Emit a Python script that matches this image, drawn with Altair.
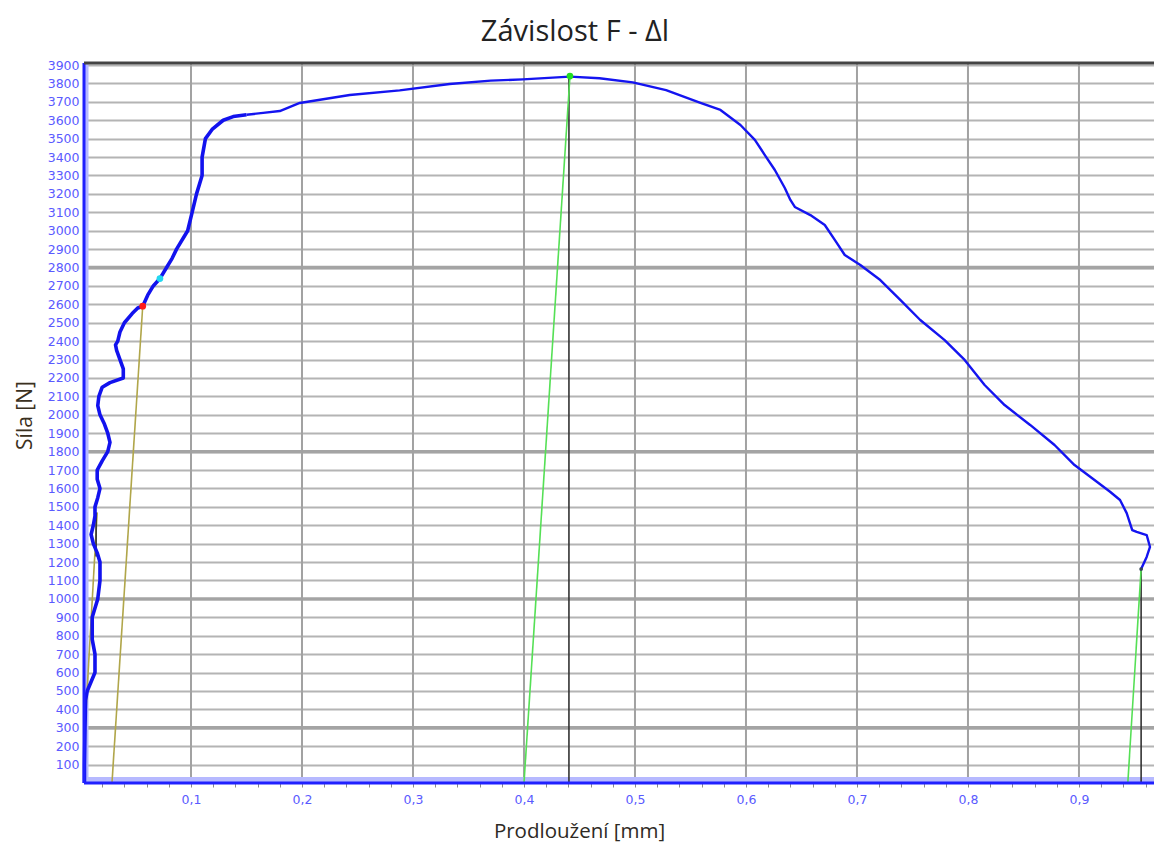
import altair as alt
import pandas as pd

# ---- data ----
curve_x = [0.004, 0.004, 0.0045, 0.005, 0.0065, 0.010, 0.0135, 0.0135, 0.011, 0.011,
           0.014, 0.016, 0.018, 0.018, 0.0155, 0.012, 0.010, 0.012, 0.0135, 0.0135,
           0.016, 0.018, 0.0155, 0.0155, 0.020, 0.025, 0.027, 0.025, 0.022, 0.018,
           0.016, 0.017, 0.020, 0.027, 0.039, 0.039, 0.036, 0.033, 0.032, 0.034,
           0.036, 0.040, 0.047, 0.052, 0.0565, 0.061, 0.066, 0.072, 0.078, 0.083,
           0.087, 0.097, 0.101, 0.105, 0.110, 0.110, 0.113, 0.119, 0.129, 0.138,
           0.150, 0.165, 0.180, 0.198, 0.243, 0.288, 0.333, 0.370, 0.399, 0.4414,
           0.468, 0.498, 0.528, 0.559, 0.577, 0.595, 0.608, 0.617, 0.626, 0.635,
           0.640, 0.644, 0.658, 0.671, 0.680, 0.689, 0.703, 0.721, 0.739, 0.757,
           0.779, 0.797, 0.815, 0.833, 0.856, 0.878, 0.896, 0.914, 0.928, 0.937,
           0.943, 0.948, 0.952, 0.961, 0.964, 0.961, 0.956]
curve_f = [0, 100, 300, 450, 500, 550, 600, 700, 780, 900,
           960, 1000, 1100, 1200, 1250, 1300, 1350, 1400, 1450, 1500,
           1550, 1600, 1650, 1700, 1750, 1800, 1850, 1900, 1950, 2000,
           2050, 2100, 2150, 2175, 2200, 2250, 2300, 2350, 2380, 2400,
           2450, 2500, 2550, 2580, 2590, 2650, 2700, 2740, 2800, 2850,
           2900, 3000, 3100, 3200, 3300, 3400, 3500, 3550, 3600, 3620,
           3630, 3640, 3650, 3694, 3737, 3762, 3797, 3815, 3822, 3837,
           3828, 3806, 3764, 3694, 3656, 3574, 3493, 3411, 3330, 3232,
           3167, 3129, 3085, 3031, 2950, 2868, 2814, 2732, 2624, 2515,
           2406, 2298, 2162, 2053, 1945, 1836, 1727, 1646, 1582, 1537,
           1466, 1374, 1364, 1347, 1282, 1228, 1162]
split_index = 60  # thicker trace below this index

# marker lines (x start/end, F start/end, colour group)
seg_id = ["olive1", "olive1", "olive2", "olive2", "black0", "black0",
          "black1", "black1", "green1", "green1", "black2", "black2", "green2", "green2"]
seg_x = [0.0288, 0.0565, 0.0045, 0.0155, 0.0145, 0.0145,
         0.4405, 0.4405, 0.400, 0.4414, 0.956, 0.956, 0.944, 0.956]
seg_f = [0, 2590, 300, 1470, 1230, 1470,
         0, 3837, 0, 3837, 0, 1162, 0, 1162]
seg_color = ["#b0a64a", "#b0a64a", "#b0a64a", "#b0a64a", "#333333", "#333333",
             "#333333", "#333333", "#55e055", "#55e055", "#333333", "#333333", "#55e055", "#55e055"]

pt_x = [0.0565, 0.072, 0.4414, 0.956]
pt_f = [2590, 2740, 3840, 1162]
pt_color = ["#ff1a1a", "#22d8f0", "#22dd22", "#334455"]
pt_size = [45, 45, 45, 14]

y_ticks = list(range(100, 4000, 100))
thick_grid = [300, 1000, 1800, 2800]
x_major = [0.1, 0.2, 0.3, 0.4, 0.5, 0.6, 0.7, 0.8, 0.9]
x_minor = [round(i * 0.02, 2) for i in range(1, 49)]

x_min, x_max = 0.0036, 0.9676
f_max = 3911

LABEL = "#5a5aff"
BLUE = "#2020ff"
BAND = "#b6b9ff"

df = pd.DataFrame({"x": curve_x, "f": curve_f, "i": list(range(len(curve_x)))})
segs = pd.DataFrame({"id": seg_id, "x": seg_x, "f": seg_f, "c": seg_color})
pts = pd.DataFrame({"x": pt_x, "f": pt_f, "c": pt_color, "s": pt_size})

xs = alt.Scale(domain=[x_min, x_max], nice=False, zero=False)
ys = alt.Scale(domain=[0, f_max], nice=False, zero=False)

x_axis = alt.Axis(
    values=x_minor, grid=False, domain=False, ticks=True, tickColor="#8a8a8a",
    tickSize=4, tickWidth=1, labelOverlap=False, labelBound=False, labelFlush=False,
    labelExpr="abs(datum.value*10 - round(datum.value*10)) < 0.001 ? replace(format(datum.value, '.1f'), '.', ',') : ''",
    labelColor=LABEL, labelFont="DejaVu Sans", labelFontSize=12.5, labelPadding=6,
    title="Prodloužení [mm]", titleFont="Open Sans", titleFontSize=20.5, titleFontWeight="normal",
    titleColor="#2e2a24", titleX=495, titleY=48, titleAlign="center", titleBaseline="middle",
    titleAnchor="start",
)
y_axis = alt.Axis(
    values=y_ticks, format="d", grid=True, gridColor="#b4b4b4", gridWidth=2, domain=False,
    ticks=False, labelOverlap=False, labelBound=False, labelFlush=False,
    labelColor=LABEL, labelFont="DejaVu Sans", labelFontSize=12.5, labelPadding=5,
    title="Síla [N]", titleFont="Open Sans", titleFontSize=21, titleFontWeight="normal",
    titleColor="#3a3020", titleX=-59, titleY=352, titleAngle=270, titleAlign="center",
    titleBaseline="middle", titleAnchor="start",
)


def X(field="x:Q"):
    return alt.X(field, scale=xs, axis=x_axis)


def Y(field="f:Q"):
    return alt.Y(field, scale=ys, axis=y_axis)


base = alt.Chart(df).mark_line(strokeWidth=0, opacity=0).encode(
    x=X(), y=Y(), order="i:Q",
)

thick = alt.Chart(pd.DataFrame({"f": thick_grid})).mark_rule(
    color="#a4a4a4", strokeWidth=3.4).encode(y=Y())
vgrid = alt.Chart(pd.DataFrame({"x": x_major})).mark_rule(
    color="#a2a2a2", strokeWidth=2).encode(x=X())

bottom_band = alt.Chart(pd.DataFrame({"f": [0]})).mark_rule(
    color=BAND, strokeWidth=6, yOffset=-3).encode(y=Y())
left_band = alt.Chart(pd.DataFrame({"x": [x_min]})).mark_rule(
    color=BAND, strokeWidth=4, xOffset=2.5).encode(x=X())

lines = alt.Chart(segs).mark_line(strokeWidth=1.6).encode(
    x=X(), y=Y(), detail="id:N", color=alt.Color("c:N", scale=None),
)

lower = alt.Chart(df).transform_filter(alt.datum.i <= split_index).mark_line(
    color="#1212ee", strokeWidth=3.6, strokeJoin="round").encode(x=X(), y=Y(), order="i:Q")
upper = alt.Chart(df).transform_filter(alt.datum.i >= split_index).mark_line(
    color="#1414f0", strokeWidth=2.4, strokeJoin="round").encode(x=X(), y=Y(), order="i:Q")

points = alt.Chart(pts).mark_point(filled=True, opacity=1).encode(
    x=X(), y=Y(), color=alt.Color("c:N", scale=None), size=alt.Size("s:Q", scale=None))

bottom_axis = alt.Chart(pd.DataFrame({"f": [0]})).mark_rule(
    color=BLUE, strokeWidth=3).encode(y=Y())
left_axis = alt.Chart(pd.DataFrame({"x": [x_min]})).mark_rule(
    color=BLUE, strokeWidth=3).encode(x=X())
top_border = alt.Chart(pd.DataFrame({"f": [f_max]})).mark_rule(
    color="#444444", strokeWidth=3).encode(y=Y())

chart = alt.layer(
    base, thick, vgrid, bottom_band, left_band, lines, lower, upper, points,
    bottom_axis, left_axis, top_border,
).properties(
    width=1070, height=720,
    autosize=alt.AutoSizeParams(type="none"),
    padding={"left": 76, "top": 55, "right": 0, "bottom": 63},
    title=alt.TitleParams(
        "Závislost F - Δl", font="Open Sans", fontSize=29, fontWeight="normal",
        color="#222222", anchor="middle", dx=-44, dy=33, offset=22, baseline="alphabetic",
    ),
).configure_view(stroke=None)

chart.save("out.html", embed_options={"renderer": "svg", "actions": False})
